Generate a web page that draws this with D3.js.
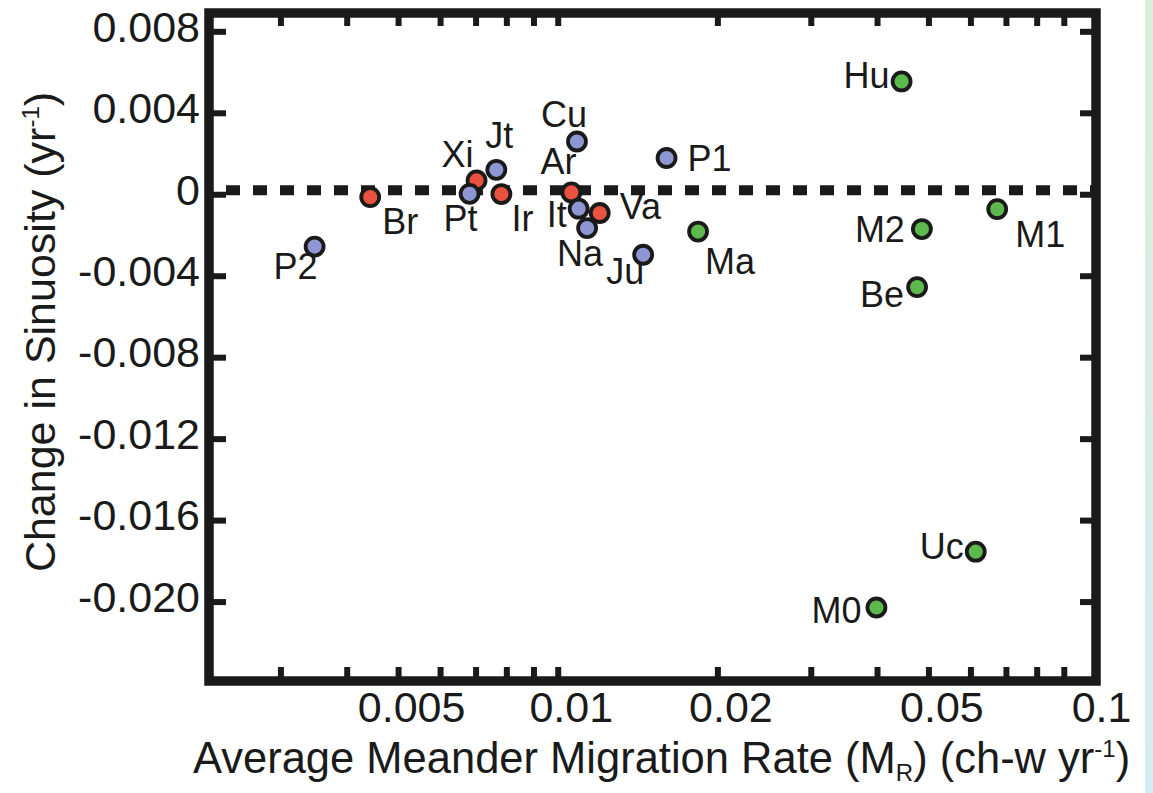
<!DOCTYPE html>
<html>
<head>
<meta charset="utf-8">
<script src="https://cdn.jsdelivr.net/npm/d3@7"></script>
<style>
body { margin: 0; background: #fff; }
text { font-family: "Liberation Sans", Arial, Helvetica, sans-serif; fill: #1a1a1a; }
</style>
</head>
<body>
<script>
// reaches
var names = ["P2", "Br", "Pt", "Xi", "Jt", "Ir", "Ar", "Cu", "It", "Na", "Va", "Ju", "P1", "Ma", "M0", "Hu", "Be", "M2", "Uc", "M1"];
var migRate = [0.00348, 0.00443, 0.00682, 0.00703, 0.00766, 0.00783, 0.01061, 0.01087, 0.01095, 0.01136, 0.0120, 0.01449, 0.01604, 0.01839, 0.0399, 0.0445, 0.0476, 0.0486, 0.0614, 0.0674];
var sinChange = [-0.00257, -0.00014, 0.00002, 0.00068, 0.0012, 0.00001, 0.00009, 0.00259, -0.00071, -0.00166, -0.00092, -0.00297, 0.00178, -0.00183, -0.02029, 0.00554, -0.00456, -0.00171, -0.01755, -0.00073];
var group = ["blue", "red", "blue", "red", "blue", "red", "red", "blue", "blue", "blue", "red", "blue", "blue", "green", "green", "green", "green", "green", "green", "green"];

var xLabelValues = [0.005, 0.01, 0.02, 0.05, 0.1];
var xLabelText = ["0.005", "0.01", "0.02", "0.05", "0.1"];
var xMinor = [0.003, 0.004, 0.006, 0.007, 0.008, 0.009, 0.03, 0.04, 0.06, 0.07, 0.08, 0.09];
var yTicks = [0.008, 0.004, 0, -0.004, -0.008, -0.012, -0.016, -0.020];
var yTickText = ["0.008", "0.004", "0", "-0.004", "-0.008", "-0.012", "-0.016", "-0.020"];
var zeroLine = [0.0002]; // dashed line sits just above the 0 tick in the original

// label placement (layout only): dx, dy from point centre to label start/baseline
var labelOffset = {
	P2: [-41, 32], Br: [12, 37], Pt: [-26, 37], Xi: [-35, -13], Jt: [-11, -22],
	Ir: [10, 37], Ar: [-31, -18], Cu: [-36, -15], It: [-32, 18], Na: [-30, 38],
	Va: [20, 6], Ju: [-37, 29], P1: [21, 13], Ma: [7, 42], M0: [-65, 16],
	Hu: [-58, 7], Be: [-57, 20], M2: [-67, 13], Uc: [-56, 7], M1: [18, 38]
};

var W = 1153, H = 793;
var box = { left: 209, top: 13, right: 1096, bottom: 681 };
var ink = "#1a1a1a";

var svg = d3.select("body").append("svg")
	.attr("width", W)
	.attr("height", H);

// pale strip at right edge of the scan
var grad = svg.append("defs").append("linearGradient")
	.attr("id", "edge").attr("x1", 0).attr("y1", 0).attr("x2", 0).attr("y2", 1);
grad.append("stop").attr("offset", "0%").attr("stop-color", "#d9efd9");
grad.append("stop").attr("offset", "100%").attr("stop-color", "#d6ecf4");
svg.append("rect").attr("x", 1145).attr("y", 0).attr("width", 8).attr("height", H).attr("fill", "url(#edge)");

var x = d3.scaleLog().domain([0.0022, 0.1035]).range([box.left, box.right]);
var y = d3.scaleLinear().domain([-0.0239, 0.0089]).range([box.bottom, box.top]);
var colour = d3.scaleOrdinal().domain(["red", "blue", "green"]).range(["#e8523e", "#8e97d3", "#5db84e"]);

function styleAxis(g) {
	g.select(".domain").remove();
	g.selectAll(".tick line").attr("stroke", ink).attr("stroke-width", 6);
	g.selectAll(".tick text").attr("fill", ink).style("font-size", "43px");
}

// bottom axis with labels
var xAll = xMinor.concat(xLabelValues);
var gx = svg.append("g")
	.attr("transform", "translate(0," + box.bottom + ")")
	.call(d3.axisBottom(x).tickValues(xAll).tickSize(-14).tickPadding(10)
		.tickFormat(function (d) {
			var i = xLabelValues.indexOf(d);
			return i >= 0 ? xLabelText[i] : "";
		}))
	.call(styleAxis);
gx.selectAll(".tick text").attr("x", 13);
gx.selectAll(".tick line").filter(function (d) { return d >= 0.1; }).remove();

// top mirror ticks
svg.append("g")
	.attr("transform", "translate(0," + box.top + ")")
	.call(d3.axisTop(x).tickValues(xAll.filter(function (d) { return d < 0.1; })).tickSize(-13).tickFormat(""))
	.call(styleAxis);

// left axis
var gy = svg.append("g")
	.attr("transform", "translate(" + box.left + ",0)")
	.call(d3.axisLeft(y).tickValues(yTicks).tickSize(-17).tickPadding(9)
		.tickFormat(function (d, i) { return yTickText[i]; }))
	.call(styleAxis);
gy.selectAll(".tick text").attr("y", -4);

// right mirror ticks
svg.append("g")
	.attr("transform", "translate(" + box.right + ",0)")
	.call(d3.axisRight(y).tickValues(yTicks).tickSize(-16).tickFormat(""))
	.call(styleAxis);

// zero line
svg.selectAll(".zero")
	.data(zeroLine)
	.enter().append("line")
	.attr("class", "zero")
	.attr("x1", box.left).attr("x2", box.right)
	.attr("y1", function (d) { return y(d); })
	.attr("y2", function (d) { return y(d); })
	.attr("stroke", ink)
	.attr("stroke-width", 10)
	.attr("stroke-dasharray", "14 13")
	.attr("stroke-dashoffset", 10);

// frame
svg.append("rect")
	.attr("x", box.left).attr("y", box.top)
	.attr("width", box.right - box.left).attr("height", box.bottom - box.top)
	.attr("fill", "none")
	.attr("stroke", ink)
	.attr("stroke-width", 9.5);

var pts = names.map(function (n, i) {
	return { name: n, mr: migRate[i], ds: sinChange[i], grp: group[i] };
});

// labels under the points
svg.selectAll(".lab")
	.data(pts)
	.enter().append("text")
	.attr("class", "lab")
	.attr("x", function (d) { return x(d.mr) + labelOffset[d.name][0]; })
	.attr("y", function (d) { return y(d.ds) + labelOffset[d.name][1]; })
	.style("font-size", "36px")
	.text(function (d) { return d.name; });

var order = { red: 0, blue: 1, green: 2 };
svg.selectAll(".pt")
	.data(pts.slice().sort(function (a, b) { return order[a.grp] - order[b.grp]; }))
	.enter().append("circle")
	.attr("class", "pt")
	.attr("cx", function (d) { return x(d.mr); })
	.attr("cy", function (d) { return y(d.ds); })
	.attr("r", 9)
	.attr("fill", function (d) { return colour(d.grp); })
	.attr("stroke", ink)
	.attr("stroke-width", 3.8);

// axis titles
var xt = svg.append("text")
	.attr("x", 193)
	.attr("y", 773)
	.style("font-size", "43.5px");
xt.append("tspan").text("Average Meander Migration Rate (M");
xt.append("tspan").attr("dy", 8).style("font-size", "24px").text("R");
xt.append("tspan").attr("dy", -8).text(") (ch-w yr");
xt.append("tspan").attr("dy", -16).style("font-size", "24px").text("-1");
xt.append("tspan").attr("dy", 16).text(")");

var yt = svg.append("text")
	.attr("transform", "translate(55,332) rotate(-90)")
	.attr("text-anchor", "middle")
	.style("font-size", "43px");
yt.append("tspan").text("Change in Sinuosity (yr");
yt.append("tspan").attr("dy", -16).style("font-size", "24px").text("-1");
yt.append("tspan").attr("dy", 16).text(")");
</script>
</body>
</html>
